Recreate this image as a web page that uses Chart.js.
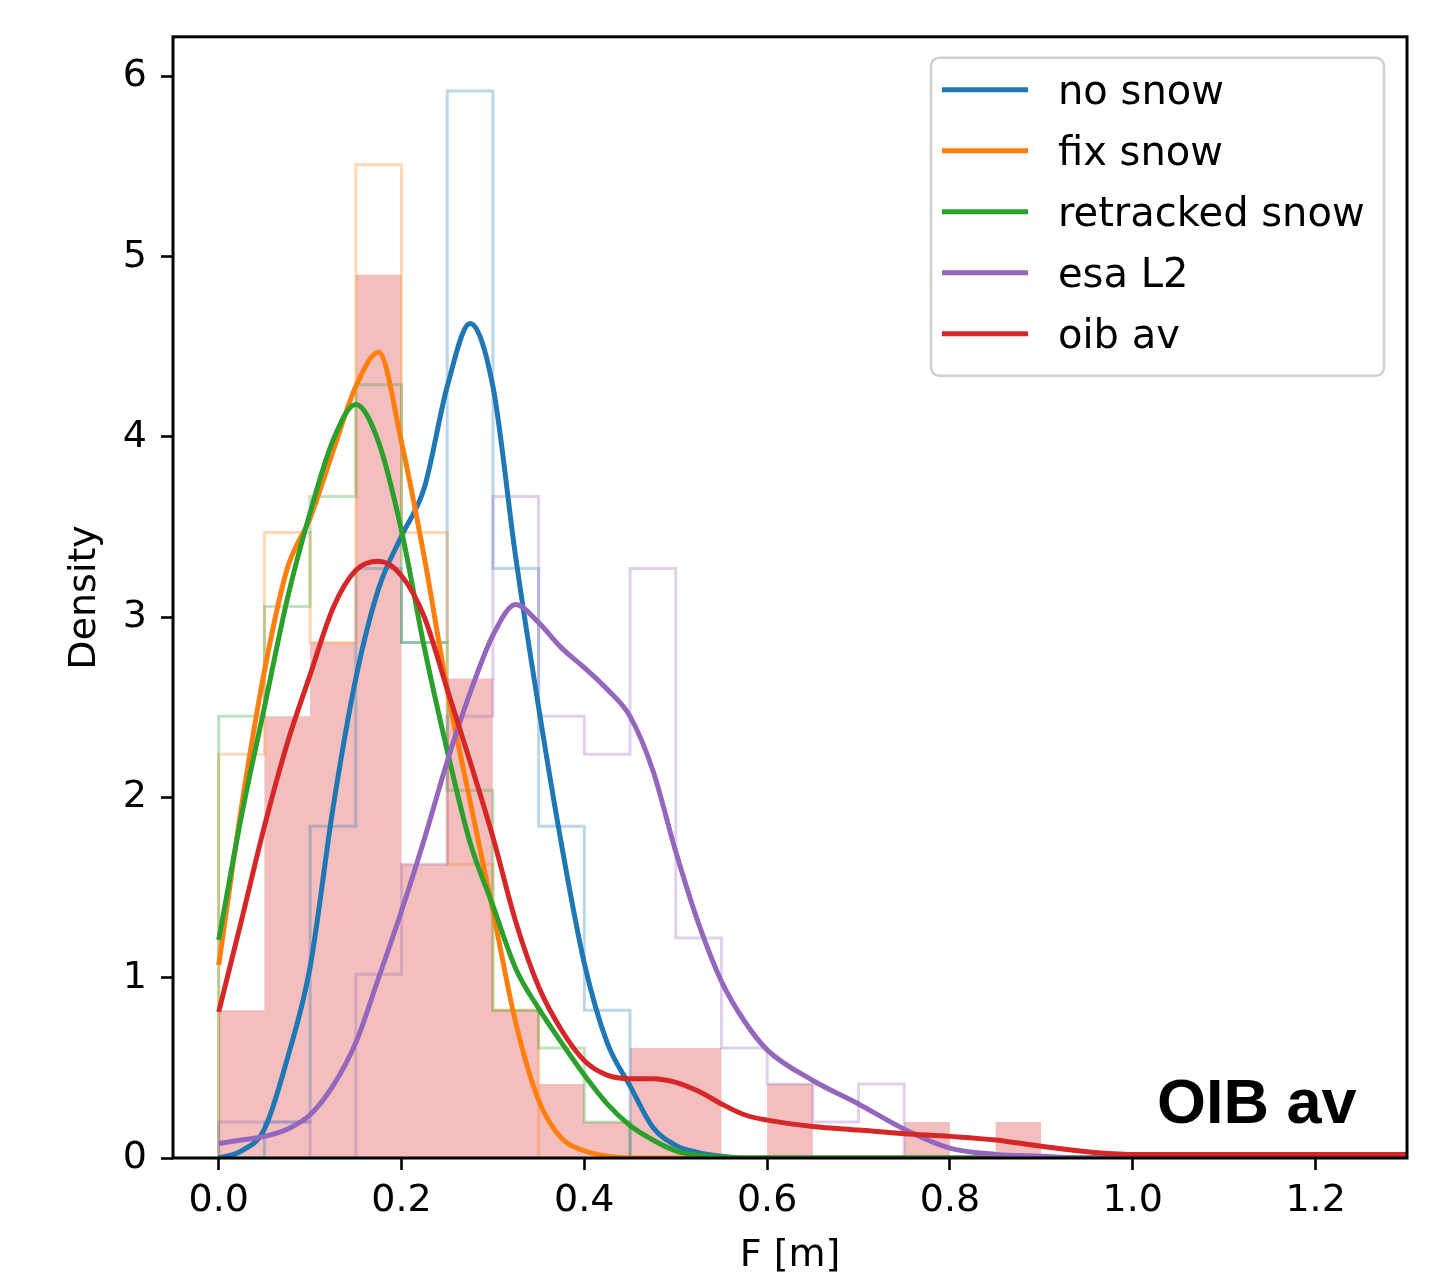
<!DOCTYPE html>
<html lang="en">
<head>
<meta charset="UTF-8" />
<title>Freeboard density - OIB av</title>
<script src="https://cdn.jsdelivr.net/npm/chart.js"></script>
<style>
  html, body { margin: 0; padding: 0; background: #fff; }
  #wrap { width: 1430px; height: 1279px; }
</style>
</head>
<body>
<div id="wrap"><canvas id="fb-chart" width="1430" height="1279"></canvas></div>
<script>
// histogram bins (m), shared by every series
const binEdges = [0, 0.05, 0.1, 0.15, 0.2, 0.25, 0.3, 0.35, 0.4, 0.45, 0.5, 0.55, 0.6, 0.65, 0.7, 0.75, 0.8, 0.85, 0.9];

// histogram densities
const histNoSnow    = [0, 0.2, 1.84, 3.27, 2.86, 5.92, 3.27, 1.84, 0.82, 0, 0, 0, 0, 0, 0, 0, 0, 0];
const histFixSnow   = [2.24, 3.47, 2.86, 5.51, 3.47, 1.63, 0.82, 0, 0, 0, 0, 0, 0, 0, 0, 0, 0, 0];
const histRetracked = [2.45, 3.06, 3.67, 4.29, 2.86, 2.04, 0.82, 0.61, 0.2, 0, 0, 0, 0, 0, 0, 0, 0, 0];
const histEsa       = [0.2, 0.2, 0, 1.02, 1.63, 2.45, 3.67, 2.45, 2.24, 3.27, 1.22, 0.61, 0.41, 0.2, 0.41, 0, 0, 0];
const histOib       = [0.82, 2.45, 2.86, 4.9, 1.63, 2.66, 0.82, 0.41, 0.2, 0.61, 0.61, 0, 0.41, 0, 0, 0.2, 0, 0.2];

// kde curves, sampled on kdeX
const kdeX = [0, 0.025, 0.05, 0.075, 0.1, 0.125, 0.15, 0.175, 0.2, 0.225, 0.25, 0.275, 0.3, 0.325, 0.35, 0.375, 0.4, 0.425, 0.45, 0.475, 0.5, 0.525, 0.55, 0.575, 0.6, 0.65, 0.7, 0.75, 0.8, 0.85, 0.9, 0.95, 1.0, 1.1, 1.2, 1.3];
const kdeNoSnow    = [0, 0.04, 0.16, 0.55, 1.06, 1.94, 2.66, 3.16, 3.45, 3.72, 4.28, 4.63, 4.28, 3.33, 2.5, 1.74, 1.08, 0.64, 0.4, 0.17, 0.07, 0.03, 0.01, 0, 0, 0, 0, 0, 0, 0, 0, 0, 0, 0, 0, 0];
const kdeFixSnow   = [1.07, 1.95, 2.7, 3.27, 3.55, 3.92, 4.28, 4.47, 3.97, 3.33, 2.6, 1.98, 1.37, 0.75, 0.32, 0.11, 0.04, 0.01, 0, 0, 0, 0, 0, 0, 0, 0, 0, 0, 0, 0, 0, 0, 0, 0, 0, 0];
const kdeRetracked = [1.21, 1.9, 2.5, 3.1, 3.58, 3.98, 4.18, 3.97, 3.48, 2.83, 2.26, 1.75, 1.4, 1.05, 0.83, 0.64, 0.46, 0.3, 0.18, 0.1, 0.04, 0.015, 0.005, 0, 0, 0, 0, 0, 0, 0, 0, 0, 0, 0, 0, 0];
const kdeEsa       = [0.08, 0.1, 0.12, 0.16, 0.24, 0.4, 0.64, 1.0, 1.37, 1.77, 2.2, 2.58, 2.9, 3.07, 2.97, 2.83, 2.72, 2.6, 2.45, 2.15, 1.7, 1.3, 0.98, 0.76, 0.6, 0.43, 0.3, 0.16, 0.055, 0.02, 0.01, 0, 0, 0, 0, 0];
const kdeOib       = [0.81, 1.32, 1.84, 2.3, 2.68, 3.05, 3.26, 3.31, 3.23, 3.0, 2.6, 2.2, 1.78, 1.31, 0.95, 0.71, 0.54, 0.46, 0.44, 0.44, 0.42, 0.37, 0.3, 0.24, 0.21, 0.175, 0.155, 0.135, 0.12, 0.1, 0.065, 0.035, 0.02, 0.02, 0.02, 0.02];

const seriesNames = ["no snow", "fix snow", "retracked snow", "esa L2", "oib av"];
const xTicks = [0, 0.2, 0.4, 0.6, 0.8, 1.0, 1.2];
const yTicks = [0, 1, 2, 3, 4, 5, 6];

const colors = ["#1f77b4", "#ff7f0e", "#2ca02c", "#9467bd", "#d62728"];
const faded = ["rgba(31,119,180,0.3)", "rgba(255,127,14,0.3)", "rgba(44,160,44,0.3)", "rgba(148,103,189,0.3)", "rgba(214,39,40,0.3)"];

// outline points for a step histogram (stops after the last non-empty bin)
function stepPoints(h) {
  let last = h.length - 1;
  while (last > 0 && h[last] === 0) last--;
  const pts = [{ x: binEdges[0], y: 0 }];
  for (let i = 0; i <= last; i++) pts.push({ x: binEdges[i], y: h[i] });
  pts.push({ x: binEdges[last + 1], y: 0 });
  return pts;
}

function kdePoints(vals) {
  return kdeX.map((x, i) => ({ x: x, y: vals[i] }));
}

const hists = [histNoSnow, histFixSnow, histRetracked, histEsa];
const kdes = [kdeNoSnow, kdeFixSnow, kdeRetracked, kdeEsa, kdeOib];

const datasets = [];
// filled histogram for oib av, at the back
datasets.push({
  label: "oib av hist",
  data: stepPoints(histOib),
  stepped: "before",
  borderWidth: 0,
  borderColor: "rgba(0,0,0,0)",
  backgroundColor: faded[4],
  fill: "origin",
  pointRadius: 0,
  order: 20,
});
hists.forEach((h, i) => {
  datasets.push({
    label: seriesNames[i] + " hist",
    data: stepPoints(h),
    stepped: "before",
    borderWidth: 3,
    borderColor: faded[i],
    fill: false,
    pointRadius: 0,
    order: 15 - i,
  });
});
kdes.forEach((k, i) => {
  datasets.push({
    label: seriesNames[i],
    data: kdePoints(k),
    borderColor: colors[i],
    borderWidth: 5,
    cubicInterpolationMode: "monotone",
    fill: false,
    pointRadius: 0,
    order: 5 - i,
  });
});

const tickFont = { family: "DejaVu Sans", size: 38 };

const overlay = {
  id: "overlay",
  afterDraw(chart) {
    const ctx = chart.ctx;
    const a = chart.chartArea;
    ctx.save();

    // axes frame
    ctx.strokeStyle = "#000";
    ctx.lineWidth = 3;
    ctx.strokeRect(a.left, a.top, a.right - a.left, a.bottom - a.top);

    // legend box, upper right
    const bx = a.right - 476, by = a.top + 21, bw = 453, bh = 318;
    ctx.beginPath();
    ctx.roundRect(bx, by, bw, bh, 8);
    ctx.fillStyle = "rgba(255,255,255,0.8)";
    ctx.fill();
    ctx.strokeStyle = "#d0d0d0";
    ctx.lineWidth = 2.5;
    ctx.stroke();

    ctx.font = "40px 'DejaVu Sans'";
    ctx.textBaseline = "alphabetic";
    ctx.textAlign = "left";
    seriesNames.forEach((name, i) => {
      const y = by + 32 + i * 61;
      ctx.beginPath();
      ctx.moveTo(bx + 11, y);
      ctx.lineTo(bx + 97, y);
      ctx.strokeStyle = colors[i];
      ctx.lineWidth = 5;
      ctx.stroke();
      ctx.fillStyle = "#000";
      ctx.fillText(name, bx + 127, y + 14);
    });

    // panel label
    ctx.font = "bold 63px 'Liberation Sans', Arial, sans-serif";
    ctx.fillStyle = "#000";
    ctx.fillText("OIB av", a.right - 250, a.bottom - 35);
    ctx.restore();
  },
};

new Chart(document.getElementById("fb-chart"), {
  type: "line",
  data: { datasets: datasets },
  options: {
    responsive: false,
    devicePixelRatio: 1,
    animation: false,
    layout: { padding: { left: 0, right: 23, top: 35, bottom: 0 } },
    plugins: { legend: { display: false }, tooltip: { enabled: false } },
    scales: {
      x: {
        type: "linear",
        min: -0.05,
        max: 1.3,
        afterFit: (s) => { s.height = 121; },
        afterBuildTicks: (s) => { s.ticks = xTicks.map((v) => ({ value: v })); },
        border: { display: false },
        grid: { drawOnChartArea: false, drawTicks: true, tickLength: 12, tickColor: "#000", tickWidth: 2.6 },
        ticks: { color: "#000", font: tickFont, padding: 8, maxRotation: 0, callback: (v) => Number(v).toFixed(1) },
        title: { display: true, text: "F [m]", color: "#000", font: tickFont, padding: { top: 0, bottom: 0 } },
      },
      y: {
        type: "linear",
        min: 0,
        max: 6.22,
        afterFit: (s) => { s.width = 173; },
        afterBuildTicks: (s) => { s.ticks = yTicks.map((v) => ({ value: v })); },
        border: { display: false },
        grid: { drawOnChartArea: false, drawTicks: true, tickLength: 12, tickColor: "#000", tickWidth: 2.6 },
        ticks: { color: "#000", font: tickFont, padding: 14, callback: (v) => String(v) },
        title: { display: true, text: "Density", color: "#000", font: tickFont, padding: { top: 62, bottom: 0 } },
      },
    },
  },
  plugins: [overlay],
});
</script>
</body>
</html>
